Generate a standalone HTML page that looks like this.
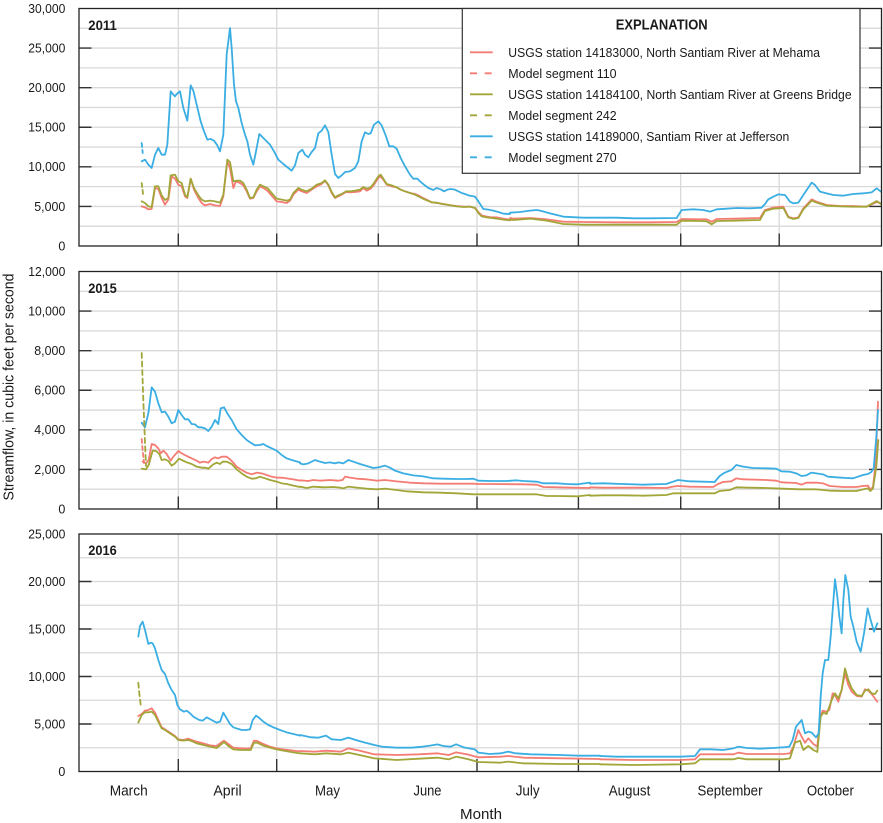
<!DOCTYPE html>
<html><head><meta charset="utf-8"><style>
html,body{margin:0;padding:0;background:#fff}
svg{display:block}
text{font-family:"Liberation Sans Narrow","Liberation Sans",sans-serif;fill:#1a1a1a}
.g{stroke:#d9d9d9;stroke-width:1.3;fill:none}
.ax{stroke:#222;stroke-width:1.3;fill:none}
.tk{stroke:#333;stroke-width:1.4}
.d{fill:none;stroke-width:1.8;stroke-linejoin:round;stroke-linecap:round}
.r{stroke:#f47c74}.o{stroke:#a2a638}.b{stroke:#3aaee3}
.tl{font-size:12.5px;text-anchor:end}
.ml{font-size:14.5px;text-anchor:middle}
.yr{font-size:14px;font-weight:bold}
.lg{font-size:13px}
</style></head><body>
<svg width="883" height="823" viewBox="0 0 883 823" xmlns="http://www.w3.org/2000/svg">
<rect width="883" height="823" fill="#fff"/>

<!-- ===== Gridlines ===== -->
<g class="g">
<!-- panel 1 -->
<path d="M79 226.21H881.5M79 206.42H881.5M79 186.63H881.5M79 166.83H881.5M79 147.04H881.5M79 127.25H881.5M79 107.46H881.5M79 87.67H881.5M79 67.88H881.5M79 48.08H881.5M79 28.29H881.5"/>
<path d="M178.3 8.5V246M276.7 8.5V246M378.3 8.5V246M477 8.5V246M578.4 8.5V246M680.7 8.5V246M779.2 8.5V246"/>
<!-- panel 2 -->
<path d="M79 489.21H881.5M79 469.42H881.5M79 449.63H881.5M79 429.83H881.5M79 410.04H881.5M79 390.25H881.5M79 370.46H881.5M79 350.67H881.5M79 330.88H881.5M79 311.08H881.5M79 291.29H881.5"/>
<path d="M178.3 271.5V509M276.7 271.5V509M378.3 271.5V509M477 271.5V509M578.4 271.5V509M680.7 271.5V509M779.2 271.5V509"/>
<!-- panel 3 -->
<path d="M79 747.75H881.5M79 724H881.5M79 700.25H881.5M79 676.5H881.5M79 652.75H881.5M79 629H881.5M79 605.25H881.5M79 581.5H881.5M79 557.75H881.5"/>
<path d="M178.3 534V771.5M276.7 534V771.5M378.3 534V771.5M477 534V771.5M578.4 534V771.5M680.7 534V771.5M779.2 534V771.5"/>
</g>

<!-- ===== Ticks ===== -->
<g class="tk">
<path d="M79 206.42h12.5M79 166.83h12.5M79 127.25h12.5M79 87.67h12.5M79 48.08h12.5"/>
<path d="M869 206.42h12.5M869 166.83h12.5M869 127.25h12.5M869 87.67h12.5M869 48.08h12.5"/>
<path d="M178.3 246v-12.5M276.7 246v-12.5M378.3 246v-12.5M477 246v-12.5M578.4 246v-12.5M680.7 246v-12.5M779.2 246v-12.5"/>
<path d="M79 469.42h12.5M79 429.83h12.5M79 390.25h12.5M79 350.67h12.5M79 311.08h12.5"/>
<path d="M869 469.42h12.5M869 429.83h12.5M869 390.25h12.5M869 350.67h12.5M869 311.08h12.5"/>
<path d="M178.3 509v-12.5M276.7 509v-12.5M378.3 509v-12.5M477 509v-12.5M578.4 509v-12.5M680.7 509v-12.5M779.2 509v-12.5"/>
<path d="M79 724h12.5M79 676.5h12.5M79 629h12.5M79 581.5h12.5"/>
<path d="M869 724h12.5M869 676.5h12.5M869 629h12.5M869 581.5h12.5"/>
<path d="M178.3 771.5v-12.5M276.7 771.5v-12.5M378.3 771.5v-12.5M477 771.5v-12.5M578.4 771.5v-12.5M680.7 771.5v-12.5M779.2 771.5v-12.5"/>
</g>

<!-- ===== Panel 1 data ===== -->
<g transform="translate(130,8) scale(0.333333)">
<polyline class="d r" vector-effect="non-scaling-stroke" points="35,595 45,598 55,604 65,603 75,540 85,543 95,570 105,590 115,575 125,505 135,512 145,530 155,535 165,565 172,570 182,512 192,545 205,570 215,585 225,592 240,588 255,592 270,594 280,565 292,460 300,480 310,540 318,520 330,525 340,532 350,550 360,572 370,570 380,550 390,535 400,540 412,548 425,563 440,580 455,582 470,585 480,578 490,560 505,545 515,550 530,555 545,545 560,535 575,528 585,518 595,532 605,555 615,570 625,565 635,560 648,552 660,553 675,552 690,550 700,540 710,548 722,542 732,530 745,510 752,505 760,515 770,530 785,535 800,538 812,545 825,550 840,555 855,558 865,562 875,568 890,575 905,583 920,585 935,587 950,590 965,592 980,594 1000,596 1020,596 1035,600 1045,612 1055,622 1070,626 1085,628 1100,628 1120,632 1140,635"/>
<polyline class="d o" vector-effect="non-scaling-stroke" points="35,580 45,585 55,595 65,597 75,535 85,535 95,562 105,576 115,570 122,502 135,500 145,520 155,525 165,560 172,568 182,512 192,540 205,562 215,575 225,580 240,578 255,580 270,584 280,560 292,455 300,462 310,520 320,518 330,518 340,525 350,545 360,570 370,568 380,545 390,530 400,535 412,540 425,555 440,572 455,575 470,578 480,575 490,555 505,540 515,545 530,550 545,542 560,530 575,525 585,517 595,530 605,552 615,568 625,562 635,558 648,550 660,550 675,548 690,545 700,537 710,542 722,538 732,525 745,505 752,500 760,512 770,528 785,532 800,538 812,545 825,550 840,555 855,560 865,565 875,570 890,577 905,583 920,584 935,588 950,590 965,593 980,595 1000,597 1020,596 1035,600 1045,615 1055,625 1070,628 1085,630 1100,632 1120,635 1140,637"/>
<polyline class="d b" vector-effect="non-scaling-stroke" points="35,460 45,455 55,470 65,480 75,440 85,420 95,440 105,440 112,410 122,250 130,260 135,265 140,258 150,250 160,300 172,338 182,232 190,248 200,290 212,340 222,370 232,395 242,393 252,398 262,412 270,430 280,380 290,140 300,60 305,120 312,230 318,280 325,300 335,345 345,380 352,400 360,440 370,470 380,420 388,378 400,390 412,402 420,410 432,430 445,455 460,468 475,480 485,488 495,472 505,435 517,425 525,440 535,448 545,432 555,420 565,376 575,368 585,352 595,372 605,440 615,498 625,510 635,502 645,492 660,490 675,480 685,460 695,400 705,373 715,378 722,376 732,350 745,340 755,352 768,385 778,415 790,415 800,422 812,450 825,475 840,500 850,512 862,512 870,520 882,530 895,540 910,546 920,540 932,544 942,550 952,545 962,543 975,545 985,550 995,555 1005,558 1015,562 1025,564 1035,566 1045,580 1060,603 1075,605 1090,608 1105,612 1120,617 1140,618"/>
</g>
<g transform="translate(500,140) scale(0.333333)">
<polyline class="d r" vector-effect="non-scaling-stroke" points="30,234 40,236 90,234 140,238 190,245 250,246 350,247 450,247 530,246 545,237 600,238 620,238 635,245 650,237 700,236 780,234 795,210 820,203 850,200 865,230 880,235 895,232 910,205 935,178 950,185 980,195 1020,198 1060,198 1100,200 1130,186 1143,190"/>
<polyline class="d o" vector-effect="non-scaling-stroke" points="30,239 40,240 90,236 140,242 190,252 250,254 350,254 450,254 530,254 545,242 600,243 620,244 635,253 650,243 700,242 780,240 795,213 820,206 850,204 865,232 880,237 895,234 910,208 935,182 950,188 980,197 1020,199 1060,200 1100,200 1130,183 1143,192"/>
<polyline class="d b" vector-effect="non-scaling-stroke" points="30,218 60,216 90,212 110,210 125,213 150,220 190,230 250,233 300,233 350,233 400,235 450,235 530,234 545,210 580,208 610,210 630,215 650,208 680,206 710,204 750,205 785,203 795,192 805,178 820,170 835,163 855,165 870,185 880,190 895,188 910,165 935,128 945,135 960,155 980,160 1000,165 1030,167 1060,162 1090,160 1115,157 1130,145 1143,155"/>
</g>
<polyline class="d b" stroke-dasharray="4,3" points="141.7,143 142.2,148 142.7,153"/>
<polyline class="d o" stroke-dasharray="4,3" points="141.7,183 142.3,188 143,194"/>

<!-- ===== Panel 2 data ===== -->
<g transform="translate(0,240) scale(0.333333)">
<polyline class="d r" vector-effect="non-scaling-stroke" points="428,665 438,670 446,660 455,612 465,615 475,625 482,640 490,632 500,642 512,662 520,650 535,633 545,640 560,648 575,655 590,662 600,668 610,665 625,668 635,657 645,652 655,655 665,650 680,650 690,658 700,668 710,680 725,690 740,698 755,703 770,698 785,700 800,705 815,710 830,713 845,713 860,715 880,718 900,722"/>
<polyline class="d o" vector-effect="non-scaling-stroke" points="425,686 438,688 446,675 458,632 468,633 478,642 485,660 495,658 505,663 515,677 525,670 537,656 545,660 560,667 575,672 590,680 605,683 615,683 625,686 640,673 650,668 660,672 668,665 680,665 695,672 710,688 725,700 740,710 755,716 768,715 780,710 795,715 810,720 830,725 845,730 860,732 880,737 900,741"/>
<polyline class="d b" vector-effect="non-scaling-stroke" points="425,548 435,562 445,520 455,442 465,455 475,490 485,517 495,515 505,530 515,550 525,545 535,510 545,525 555,538 565,538 575,552 585,553 595,562 605,562 615,565 625,573 635,560 645,540 655,552 662,505 672,502 682,520 695,540 710,568 725,585 740,600 755,610 765,616 780,615 790,612 800,618 815,625 830,632 845,645 860,655 875,660 900,667"/>
</g>
<g transform="translate(290,400) scale(0.333333)">
<polyline class="d r" vector-effect="non-scaling-stroke" points="30,241 55,243 70,240 90,242 120,240 145,242 158,240 165,230 180,233 200,236 230,238 260,242 285,240 320,244 360,248 400,250 450,251 500,251 550,251 560,252 600,252 700,253 740,254 760,261 800,262 850,263 900,264"/>
<polyline class="d o" vector-effect="non-scaling-stroke" points="30,260 50,264 70,260 100,262 130,261 150,263 160,265 175,260 200,263 230,266 260,268 285,266 320,270 350,274 400,277 450,278 500,280 550,283 600,283 650,283 700,283 740,283 770,288 800,288 860,289 900,285"/>
<polyline class="d b" vector-effect="non-scaling-stroke" points="30,190 40,193 55,190 75,180 90,185 105,189 120,187 135,190 145,187 160,190 175,180 190,185 210,192 230,198 250,204 265,202 285,197 300,203 315,212 340,220 370,226 400,229 430,235 460,236 500,237 530,237 550,236 565,242 600,243 650,243 680,241 700,243 740,245 760,250 800,250 830,252 860,253 900,248"/>
</g>
<g transform="translate(583,360) scale(0.333333)">
<polyline class="d r" vector-effect="non-scaling-stroke" points="21,382 60,383 120,383 180,383 250,384 270,380 285,378 320,380 390,381 405,372 420,366 445,364 460,355 480,358 550,360 580,362 595,367 640,369 655,374 670,368 700,368 720,370 740,378 780,381 820,381 840,378 855,377 862,390 870,380 878,310 885,125"/>
<polyline class="d o" vector-effect="non-scaling-stroke" points="21,407 60,406 120,406 180,407 250,405 270,400 290,400 330,400 395,400 410,393 440,390 460,382 500,383 550,384 600,386 650,388 700,388 740,392 780,393 820,393 840,388 855,385 862,393 870,385 880,320 886,240"/>
<polyline class="d b" vector-effect="non-scaling-stroke" points="21,371 60,370 120,372 180,374 250,372 270,365 285,360 320,364 360,365 395,366 410,348 425,338 445,330 460,315 480,320 510,324 550,325 580,326 595,334 620,335 640,340 655,348 670,346 685,338 700,340 720,343 735,350 760,352 790,354 810,355 825,350 840,345 855,342 865,336 872,325 880,230 885,150"/>
</g>
<polyline class="d o" stroke-dasharray="5,3.5" points="141.7,353 142.5,377 143.3,400 144.2,422 145,443 146,466"/>
<polyline class="d r" stroke-dasharray="4,3" points="141.7,439 142.7,451 144,463"/>

<!-- ===== Panel 3 data ===== -->
<g transform="translate(0,520) scale(0.333333)">
<polyline class="d r" vector-effect="non-scaling-stroke" points="415,588 425,582 435,572 445,570 455,565 465,578 475,600 485,622 495,628 510,638 525,648 535,658 550,660 565,656 575,660 590,665 610,670 630,676 650,678 660,670 672,662 685,672 700,683 720,685 740,686 752,685 762,662 772,663 790,672 810,680 830,685 850,688 880,692 900,694"/>
<polyline class="d o" vector-effect="non-scaling-stroke" points="415,608 425,585 435,577 445,577 455,575 465,585 475,605 485,625 495,630 510,640 525,650 535,660 550,662 565,660 575,663 590,670 610,675 630,680 650,684 660,676 672,666 685,678 700,688 720,690 740,690 752,690 762,668 772,668 790,677 810,683 830,688 850,692 880,697 900,700"/>
<polyline class="d b" vector-effect="non-scaling-stroke" points="415,350 420,318 428,305 435,330 445,372 452,368 458,370 465,385 475,420 485,450 495,462 505,490 515,510 525,525 532,555 540,568 552,575 560,572 568,578 580,590 598,600 608,602 620,592 635,600 650,608 660,605 670,578 680,595 690,612 700,622 712,626 725,630 738,630 750,628 758,600 768,587 778,594 790,605 805,615 820,622 840,630 860,637 880,642 900,647"/>
</g>
<g transform="translate(300,700) scale(0.37175,0.333333)">
<polyline class="d r" vector-effect="non-scaling-stroke" points="0,153 40,155 70,152 110,155 130,145 160,152 200,163 260,165 320,163 370,160 400,165 420,157 450,163 480,172 540,170 560,168 600,173 700,175 807,177"/>
<polyline class="d o" vector-effect="non-scaling-stroke" points="0,160 40,163 70,160 110,163 130,158 160,165 200,175 260,180 320,176 370,173 400,178 420,170 450,177 480,186 540,188 560,185 600,190 700,192 807,192"/>
<polyline class="d b" vector-effect="non-scaling-stroke" points="0,105 30,112 50,113 70,107 85,118 110,120 130,113 150,120 175,128 200,135 220,140 260,143 300,143 330,140 350,137 370,133 385,138 405,140 420,133 440,142 470,148 480,158 510,162 540,160 560,155 580,160 620,163 700,165 750,167 807,167"/>
</g>
<g transform="translate(600,520) scale(0.333333)">
<polyline class="d r" vector-effect="non-scaling-stroke" points="0,718 100,720 240,720 285,718 300,703 400,703 415,698 440,702 550,702 570,700 580,680 595,630 605,650 615,668 625,655 640,672 652,680 660,590 668,572 678,575 688,570 698,520 705,525 715,545 725,510 735,460 745,495 755,515 770,528 785,530 795,508 805,512 815,522 832,545"/>
<polyline class="d o" vector-effect="non-scaling-stroke" points="0,733 100,735 240,733 285,730 300,718 400,718 415,714 440,718 550,718 570,715 585,668 600,662 610,690 625,678 640,690 652,696 662,590 670,578 680,582 695,540 705,520 715,535 725,510 735,445 745,480 755,505 770,525 785,528 795,512 805,508 815,520 825,522 832,512"/>
<polyline class="d b" vector-effect="non-scaling-stroke" points="0,708 50,710 100,710 150,710 200,710 240,710 285,708 300,688 330,688 370,690 400,685 415,680 440,684 480,686 520,684 550,682 568,680 578,660 588,620 605,600 615,640 625,635 635,638 648,652 656,640 662,530 668,460 675,420 685,420 692,350 698,270 705,178 712,230 718,290 725,340 730,240 736,165 745,210 752,290 760,320 770,365 782,395 792,340 803,265 812,300 822,335 832,310"/>
</g>
<polyline class="d o" stroke-dasharray="5,3.5" points="138.3,682.7 139.3,693.3 140.7,705"/>

<!-- ===== Axes frames ===== -->
<rect class="ax" x="79" y="8.5" width="802.5" height="237.5"/>
<rect class="ax" x="79" y="271.5" width="802.5" height="237.5"/>
<rect class="ax" x="79" y="534" width="802.5" height="237.5"/>

<!-- ===== Legend ===== -->
<rect x="462.3" y="8.5" width="397.7" height="164.8" fill="#fff" stroke="#333" stroke-width="1.2"/>
<text x="661.7" y="29.3" text-anchor="middle" style="font-size:14.5px;font-weight:bold" textLength="92" lengthAdjust="spacingAndGlyphs">EXPLANATION</text>
<g stroke-width="1.8">
<line x1="470" y1="52.3" x2="492.7" y2="52.3" stroke="#f47c74"/>
<line x1="470" y1="73.3" x2="492.7" y2="73.3" stroke="#f47c74" stroke-dasharray="7,7.7"/>
<line x1="470" y1="94.3" x2="492.7" y2="94.3" stroke="#a2a638"/>
<line x1="470" y1="115.3" x2="492.7" y2="115.3" stroke="#a2a638" stroke-dasharray="7,7.7"/>
<line x1="470" y1="136.3" x2="492.7" y2="136.3" stroke="#3aaee3"/>
<line x1="470" y1="157.3" x2="492.7" y2="157.3" stroke="#3aaee3" stroke-dasharray="7,7.7"/>
</g>
<text class="lg" x="508.3" y="56.8" textLength="311.7" lengthAdjust="spacingAndGlyphs">USGS station 14183000, North Santiam River at Mehama</text>
<text class="lg" x="508.3" y="77.8" textLength="108.3" lengthAdjust="spacingAndGlyphs">Model segment 110</text>
<text class="lg" x="508.3" y="98.8" textLength="343.3" lengthAdjust="spacingAndGlyphs">USGS station 14184100, North Santiam River at Greens Bridge</text>
<text class="lg" x="508.3" y="119.8" textLength="108.3" lengthAdjust="spacingAndGlyphs">Model segment 242</text>
<text class="lg" x="508.3" y="140.8" textLength="281" lengthAdjust="spacingAndGlyphs">USGS station 14189000, Santiam River at Jefferson</text>
<text class="lg" x="508.3" y="161.8" textLength="108.3" lengthAdjust="spacingAndGlyphs">Model segment 270</text>

<!-- ===== Year labels ===== -->
<text class="yr" x="88.3" y="30" textLength="28.5" lengthAdjust="spacingAndGlyphs">2011</text>
<text class="yr" x="88.3" y="292.8" textLength="28.5" lengthAdjust="spacingAndGlyphs">2015</text>
<text class="yr" x="88.3" y="555.2" textLength="28.5" lengthAdjust="spacingAndGlyphs">2016</text>

<!-- ===== Y tick labels ===== -->
<g class="tl">
<text x="65.3" y="12.9" textLength="37" lengthAdjust="spacingAndGlyphs">30,000</text>
<text x="65.3" y="52.5" textLength="37" lengthAdjust="spacingAndGlyphs">25,000</text>
<text x="65.3" y="92.1" textLength="37" lengthAdjust="spacingAndGlyphs">20,000</text>
<text x="65.3" y="131.7" textLength="37" lengthAdjust="spacingAndGlyphs">15,000</text>
<text x="65.3" y="171.2" textLength="37" lengthAdjust="spacingAndGlyphs">10,000</text>
<text x="65.3" y="210.8" textLength="31" lengthAdjust="spacingAndGlyphs">5,000</text>
<text x="65.3" y="250.4">0</text>

<text x="65.3" y="275.9" textLength="37" lengthAdjust="spacingAndGlyphs">12,000</text>
<text x="65.3" y="315.5" textLength="37" lengthAdjust="spacingAndGlyphs">10,000</text>
<text x="65.3" y="355.1" textLength="31" lengthAdjust="spacingAndGlyphs">8,000</text>
<text x="65.3" y="394.7" textLength="31" lengthAdjust="spacingAndGlyphs">6,000</text>
<text x="65.3" y="434.2" textLength="31" lengthAdjust="spacingAndGlyphs">4,000</text>
<text x="65.3" y="473.8" textLength="31" lengthAdjust="spacingAndGlyphs">2,000</text>
<text x="65.3" y="513.4">0</text>

<text x="65.3" y="538.4" textLength="37" lengthAdjust="spacingAndGlyphs">25,000</text>
<text x="65.3" y="585.9" textLength="37" lengthAdjust="spacingAndGlyphs">20,000</text>
<text x="65.3" y="633.4" textLength="37" lengthAdjust="spacingAndGlyphs">15,000</text>
<text x="65.3" y="680.9" textLength="37" lengthAdjust="spacingAndGlyphs">10,000</text>
<text x="65.3" y="728.4" textLength="31" lengthAdjust="spacingAndGlyphs">5,000</text>
<text x="65.3" y="775.9">0</text>
</g>

<!-- ===== Month labels ===== -->
<g class="ml">
<text x="128.7" y="795.5" textLength="38" lengthAdjust="spacingAndGlyphs">March</text>
<text x="227.5" y="795.5" textLength="28.3" lengthAdjust="spacingAndGlyphs">April</text>
<text x="327.5" y="795.5" textLength="25" lengthAdjust="spacingAndGlyphs">May</text>
<text x="427.5" y="795.5" textLength="28" lengthAdjust="spacingAndGlyphs">June</text>
<text x="527.7" y="795.5" textLength="24" lengthAdjust="spacingAndGlyphs">July</text>
<text x="629.5" y="795.5" textLength="41.6" lengthAdjust="spacingAndGlyphs">August</text>
<text x="730" y="795.5" textLength="65" lengthAdjust="spacingAndGlyphs">September</text>
<text x="830.4" y="795.5" textLength="47" lengthAdjust="spacingAndGlyphs">October</text>
</g>
<text x="481" y="819" text-anchor="middle" style="font-size:15px" textLength="42" lengthAdjust="spacingAndGlyphs">Month</text>

<!-- ===== Y axis title ===== -->
<text transform="translate(13.5,387) rotate(-90)" x="0" y="0" text-anchor="middle" style="font-size:14.5px" textLength="227" lengthAdjust="spacingAndGlyphs">Streamflow, in cubic feet per second</text>
</svg>
</body></html>
